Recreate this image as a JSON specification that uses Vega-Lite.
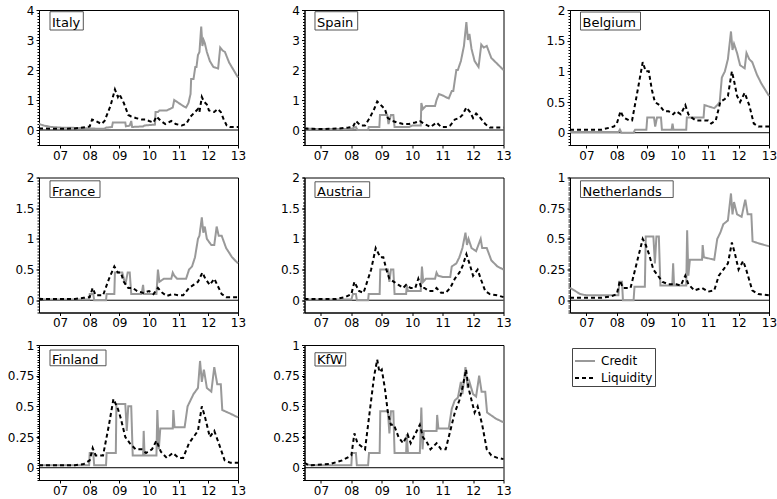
{
"$schema": "https://vega.github.io/schema/vega-lite/v6.json",
"autosize": {"type": "pad"},
"padding": {"left": 6, "top": 3, "right": 0, "bottom": 0},
"columns": 3,
"spacing": {"row": 32.5, "column": 66.5},
"bounds": "flush",
"datasets": {
"Italy": [
{"t":2006.29,"Credit":0.2},{"t":2006.45,"Credit":0.15},{"t":2006.7,"Credit":0.1},{"t":2007.0,"Credit":0.08},{"t":2007.5,"Credit":0.07},{"t":2007.9,"Credit":0.06},{"t":2008.1,"Credit":0.05},{"t":2008.3,"Credit":0.04},{"t":2008.5,"Credit":0.04},{"t":2008.55,"Credit":0.08},{"t":2008.75,"Credit":0.1},{"t":2008.78,"Credit":0.25},{"t":2009.2,"Credit":0.25},{"t":2009.22,"Credit":0.12},{"t":2009.35,"Credit":0.15},{"t":2009.4,"Credit":0.3},{"t":2009.43,"Credit":0.1},{"t":2009.8,"Credit":0.12},{"t":2009.85,"Credit":0.15},{"t":2010.2,"Credit":0.18},{"t":2010.22,"Credit":0.6},{"t":2010.3,"Credit":0.6},{"t":2010.35,"Credit":0.65},{"t":2010.6,"Credit":0.65},{"t":2010.8,"Credit":0.75},{"t":2010.85,"Credit":1.0},{"t":2011.0,"Credit":0.9},{"t":2011.15,"Credit":0.8},{"t":2011.25,"Credit":0.75},{"t":2011.33,"Credit":0.9},{"t":2011.4,"Credit":1.2},{"t":2011.42,"Credit":1.7},{"t":2011.5,"Credit":1.7},{"t":2011.56,"Credit":2.1},{"t":2011.6,"Credit":2.1},{"t":2011.65,"Credit":2.5},{"t":2011.7,"Credit":2.6},{"t":2011.76,"Credit":3.45},{"t":2011.8,"Credit":2.8},{"t":2011.84,"Credit":3.0},{"t":2011.88,"Credit":2.9},{"t":2011.95,"Credit":2.6},{"t":2012.05,"Credit":2.3},{"t":2012.17,"Credit":2.1},{"t":2012.33,"Credit":2.05},{"t":2012.4,"Credit":2.75},{"t":2012.48,"Credit":2.65},{"t":2012.56,"Credit":2.6},{"t":2012.7,"Credit":2.25},{"t":2012.85,"Credit":2.0},{"t":2013.0,"Credit":1.75},
{"t":2006.29,"Liquidity":0.05},{"t":2007.0,"Liquidity":0.04},{"t":2007.5,"Liquidity":0.05},{"t":2007.9,"Liquidity":0.1},{"t":2008.0,"Liquidity":0.12},{"t":2008.08,"Liquidity":0.35},{"t":2008.2,"Liquidity":0.3},{"t":2008.4,"Liquidity":0.2},{"t":2008.5,"Liquidity":0.3},{"t":2008.7,"Liquidity":0.8},{"t":2008.85,"Liquidity":1.35},{"t":2008.95,"Liquidity":1.1},{"t":2009.0,"Liquidity":1.2},{"t":2009.15,"Liquidity":0.9},{"t":2009.3,"Liquidity":0.5},{"t":2009.4,"Liquidity":0.45},{"t":2009.55,"Liquidity":0.4},{"t":2009.75,"Liquidity":0.35},{"t":2009.9,"Liquidity":0.35},{"t":2010.0,"Liquidity":0.3},{"t":2010.15,"Liquidity":0.25},{"t":2010.25,"Liquidity":0.45},{"t":2010.4,"Liquidity":0.3},{"t":2010.55,"Liquidity":0.2},{"t":2010.75,"Liquidity":0.3},{"t":2010.9,"Liquidity":0.2},{"t":2011.1,"Liquidity":0.15},{"t":2011.25,"Liquidity":0.2},{"t":2011.4,"Liquidity":0.45},{"t":2011.55,"Liquidity":0.6},{"t":2011.65,"Liquidity":0.7},{"t":2011.7,"Liquidity":0.6},{"t":2011.78,"Liquidity":1.1},{"t":2011.85,"Liquidity":0.95},{"t":2011.95,"Liquidity":0.85},{"t":2012.02,"Liquidity":0.65},{"t":2012.2,"Liquidity":0.6},{"t":2012.32,"Liquidity":0.7},{"t":2012.42,"Liquidity":0.6},{"t":2012.52,"Liquidity":0.35},{"t":2012.62,"Liquidity":0.15},{"t":2012.72,"Liquidity":0.1},{"t":2013.0,"Liquidity":0.1}
],
"Spain": [
{"t":2006.46,"Credit":0.05},{"t":2007.0,"Credit":0.03},{"t":2007.5,"Credit":0.03},{"t":2008.0,"Credit":0.04},{"t":2008.15,"Credit":0.1},{"t":2008.2,"Credit":0.0},{"t":2008.55,"Credit":0.0},{"t":2008.57,"Credit":0.1},{"t":2008.92,"Credit":0.1},{"t":2008.94,"Credit":0.5},{"t":2009.18,"Credit":0.5},{"t":2009.22,"Credit":0.2},{"t":2009.3,"Credit":0.5},{"t":2009.38,"Credit":0.5},{"t":2009.42,"Credit":0.1},{"t":2009.9,"Credit":0.1},{"t":2010.0,"Credit":0.15},{"t":2010.28,"Credit":0.15},{"t":2010.3,"Credit":0.9},{"t":2010.35,"Credit":0.7},{"t":2010.45,"Credit":0.8},{"t":2010.75,"Credit":0.8},{"t":2010.8,"Credit":1.0},{"t":2010.88,"Credit":1.2},{"t":2011.0,"Credit":1.15},{"t":2011.1,"Credit":1.1},{"t":2011.2,"Credit":1.05},{"t":2011.3,"Credit":1.3},{"t":2011.35,"Credit":1.3},{"t":2011.45,"Credit":2.0},{"t":2011.5,"Credit":2.0},{"t":2011.6,"Credit":2.3},{"t":2011.7,"Credit":2.8},{"t":2011.78,"Credit":3.6},{"t":2011.83,"Credit":3.0},{"t":2011.88,"Credit":3.2},{"t":2011.95,"Credit":2.7},{"t":2012.05,"Credit":2.3},{"t":2012.18,"Credit":2.1},{"t":2012.27,"Credit":2.85},{"t":2012.35,"Credit":2.75},{"t":2012.45,"Credit":2.8},{"t":2012.6,"Credit":2.4},{"t":2012.8,"Credit":2.2},{"t":2013.0,"Credit":2.0},
{"t":2006.46,"Liquidity":0.05},{"t":2007.0,"Liquidity":0.03},{"t":2007.6,"Liquidity":0.05},{"t":2007.9,"Liquidity":0.08},{"t":2008.05,"Liquidity":0.1},{"t":2008.15,"Liquidity":0.3},{"t":2008.3,"Liquidity":0.15},{"t":2008.45,"Liquidity":0.15},{"t":2008.6,"Liquidity":0.4},{"t":2008.75,"Liquidity":0.7},{"t":2008.85,"Liquidity":0.95},{"t":2009.0,"Liquidity":0.8},{"t":2009.1,"Liquidity":0.7},{"t":2009.2,"Liquidity":0.4},{"t":2009.35,"Liquidity":0.3},{"t":2009.5,"Liquidity":0.25},{"t":2009.7,"Liquidity":0.2},{"t":2009.9,"Liquidity":0.2},{"t":2010.1,"Liquidity":0.25},{"t":2010.25,"Liquidity":0.3},{"t":2010.4,"Liquidity":0.2},{"t":2010.6,"Liquidity":0.1},{"t":2010.8,"Liquidity":0.25},{"t":2010.95,"Liquidity":0.1},{"t":2011.15,"Liquidity":0.1},{"t":2011.25,"Liquidity":0.15},{"t":2011.4,"Liquidity":0.35},{"t":2011.55,"Liquidity":0.4},{"t":2011.65,"Liquidity":0.5},{"t":2011.78,"Liquidity":0.75},{"t":2011.9,"Liquidity":0.6},{"t":2012.0,"Liquidity":0.4},{"t":2012.1,"Liquidity":0.55},{"t":2012.2,"Liquidity":0.45},{"t":2012.4,"Liquidity":0.2},{"t":2012.55,"Liquidity":0.08},{"t":2013.0,"Liquidity":0.08}
],
"Belgium": [
{"t":2006.46,"Credit":0.01},{"t":2008.05,"Credit":0.01},{"t":2008.1,"Credit":0.05},{"t":2008.15,"Credit":0.0},{"t":2008.55,"Credit":0.0},{"t":2008.6,"Credit":0.05},{"t":2008.97,"Credit":0.05},{"t":2009.0,"Credit":0.25},{"t":2009.22,"Credit":0.25},{"t":2009.26,"Credit":0.1},{"t":2009.32,"Credit":0.25},{"t":2009.45,"Credit":0.25},{"t":2009.48,"Credit":0.05},{"t":2009.8,"Credit":0.05},{"t":2009.83,"Credit":0.15},{"t":2009.86,"Credit":0.05},{"t":2010.28,"Credit":0.05},{"t":2010.3,"Credit":0.25},{"t":2010.85,"Credit":0.25},{"t":2010.88,"Credit":0.45},{"t":2011.2,"Credit":0.4},{"t":2011.3,"Credit":0.45},{"t":2011.38,"Credit":0.5},{"t":2011.45,"Credit":0.9},{"t":2011.55,"Credit":1.0},{"t":2011.65,"Credit":1.2},{"t":2011.75,"Credit":1.65},{"t":2011.8,"Credit":1.35},{"t":2011.85,"Credit":1.45},{"t":2011.95,"Credit":1.3},{"t":2012.05,"Credit":1.1},{"t":2012.2,"Credit":1.05},{"t":2012.26,"Credit":1.3},{"t":2012.35,"Credit":1.2},{"t":2012.45,"Credit":1.15},{"t":2012.6,"Credit":0.95},{"t":2012.75,"Credit":0.8},{"t":2013.0,"Credit":0.6},
{"t":2006.46,"Liquidity":0.05},{"t":2007.5,"Liquidity":0.05},{"t":2007.9,"Liquidity":0.1},{"t":2008.0,"Liquidity":0.15},{"t":2008.12,"Liquidity":0.35},{"t":2008.22,"Liquidity":0.25},{"t":2008.4,"Liquidity":0.2},{"t":2008.5,"Liquidity":0.2},{"t":2008.65,"Liquidity":0.6},{"t":2008.85,"Liquidity":1.15},{"t":2008.95,"Liquidity":1.0},{"t":2009.05,"Liquidity":1.0},{"t":2009.15,"Liquidity":0.7},{"t":2009.25,"Liquidity":0.5},{"t":2009.4,"Liquidity":0.45},{"t":2009.55,"Liquidity":0.35},{"t":2009.7,"Liquidity":0.35},{"t":2009.85,"Liquidity":0.3},{"t":2009.95,"Liquidity":0.35},{"t":2010.1,"Liquidity":0.3},{"t":2010.25,"Liquidity":0.45},{"t":2010.35,"Liquidity":0.3},{"t":2010.45,"Liquidity":0.25},{"t":2010.6,"Liquidity":0.2},{"t":2010.8,"Liquidity":0.2},{"t":2011.0,"Liquidity":0.2},{"t":2011.1,"Liquidity":0.15},{"t":2011.25,"Liquidity":0.2},{"t":2011.4,"Liquidity":0.5},{"t":2011.55,"Liquidity":0.55},{"t":2011.65,"Liquidity":0.6},{"t":2011.78,"Liquidity":1.0},{"t":2011.85,"Liquidity":0.85},{"t":2011.95,"Liquidity":0.6},{"t":2012.05,"Liquidity":0.5},{"t":2012.2,"Liquidity":0.65},{"t":2012.35,"Liquidity":0.45},{"t":2012.5,"Liquidity":0.15},{"t":2012.65,"Liquidity":0.1},{"t":2013.0,"Liquidity":0.1}
],
"France": [
{"t":2006.29,"Credit":0.03},{"t":2006.5,"Credit":0.01},{"t":2007.98,"Credit":0.01},{"t":2008.0,"Credit":0.1},{"t":2008.12,"Credit":0.1},{"t":2008.15,"Credit":0.0},{"t":2008.55,"Credit":0.0},{"t":2008.57,"Credit":0.1},{"t":2008.83,"Credit":0.1},{"t":2008.85,"Credit":0.45},{"t":2009.1,"Credit":0.45},{"t":2009.2,"Credit":0.25},{"t":2009.28,"Credit":0.45},{"t":2009.35,"Credit":0.45},{"t":2009.4,"Credit":0.1},{"t":2009.75,"Credit":0.1},{"t":2009.8,"Credit":0.25},{"t":2009.83,"Credit":0.1},{"t":2010.25,"Credit":0.1},{"t":2010.3,"Credit":0.5},{"t":2010.35,"Credit":0.3},{"t":2010.5,"Credit":0.35},{"t":2010.75,"Credit":0.35},{"t":2010.8,"Credit":0.45},{"t":2010.85,"Credit":0.4},{"t":2010.95,"Credit":0.35},{"t":2011.25,"Credit":0.35},{"t":2011.35,"Credit":0.5},{"t":2011.45,"Credit":0.55},{"t":2011.55,"Credit":0.7},{"t":2011.65,"Credit":1.0},{"t":2011.7,"Credit":1.05},{"t":2011.78,"Credit":1.35},{"t":2011.83,"Credit":1.1},{"t":2011.88,"Credit":1.2},{"t":2011.95,"Credit":1.0},{"t":2012.1,"Credit":0.9},{"t":2012.2,"Credit":0.9},{"t":2012.28,"Credit":1.2},{"t":2012.35,"Credit":1.05},{"t":2012.45,"Credit":1.05},{"t":2012.6,"Credit":0.85},{"t":2012.8,"Credit":0.7},{"t":2013.0,"Credit":0.6},
{"t":2006.29,"Liquidity":0.02},{"t":2007.5,"Liquidity":0.02},{"t":2007.8,"Liquidity":0.04},{"t":2008.0,"Liquidity":0.05},{"t":2008.1,"Liquidity":0.2},{"t":2008.2,"Liquidity":0.08},{"t":2008.45,"Liquidity":0.08},{"t":2008.65,"Liquidity":0.35},{"t":2008.83,"Liquidity":0.55},{"t":2008.95,"Liquidity":0.45},{"t":2009.05,"Liquidity":0.45},{"t":2009.15,"Liquidity":0.3},{"t":2009.3,"Liquidity":0.2},{"t":2009.45,"Liquidity":0.2},{"t":2009.6,"Liquidity":0.15},{"t":2009.8,"Liquidity":0.12},{"t":2010.0,"Liquidity":0.15},{"t":2010.15,"Liquidity":0.1},{"t":2010.3,"Liquidity":0.2},{"t":2010.45,"Liquidity":0.12},{"t":2010.6,"Liquidity":0.07},{"t":2010.8,"Liquidity":0.1},{"t":2011.0,"Liquidity":0.08},{"t":2011.15,"Liquidity":0.08},{"t":2011.35,"Liquidity":0.2},{"t":2011.5,"Liquidity":0.25},{"t":2011.65,"Liquidity":0.3},{"t":2011.8,"Liquidity":0.45},{"t":2011.9,"Liquidity":0.35},{"t":2012.05,"Liquidity":0.25},{"t":2012.2,"Liquidity":0.35},{"t":2012.3,"Liquidity":0.25},{"t":2012.45,"Liquidity":0.1},{"t":2012.6,"Liquidity":0.05},{"t":2013.0,"Liquidity":0.05}
],
"Austria": [
{"t":2006.46,"Credit":0.01},{"t":2008.0,"Credit":0.01},{"t":2008.05,"Credit":0.1},{"t":2008.15,"Credit":0.1},{"t":2008.18,"Credit":0.0},{"t":2008.55,"Credit":0.0},{"t":2008.57,"Credit":0.1},{"t":2008.93,"Credit":0.1},{"t":2008.95,"Credit":0.5},{"t":2009.2,"Credit":0.5},{"t":2009.25,"Credit":0.3},{"t":2009.3,"Credit":0.5},{"t":2009.38,"Credit":0.5},{"t":2009.42,"Credit":0.1},{"t":2009.8,"Credit":0.1},{"t":2009.82,"Credit":0.25},{"t":2009.86,"Credit":0.15},{"t":2010.28,"Credit":0.15},{"t":2010.32,"Credit":0.55},{"t":2010.36,"Credit":0.3},{"t":2010.45,"Credit":0.35},{"t":2010.75,"Credit":0.35},{"t":2010.8,"Credit":0.45},{"t":2010.85,"Credit":0.4},{"t":2011.0,"Credit":0.38},{"t":2011.25,"Credit":0.38},{"t":2011.3,"Credit":0.55},{"t":2011.45,"Credit":0.6},{"t":2011.55,"Credit":0.7},{"t":2011.65,"Credit":0.85},{"t":2011.75,"Credit":1.1},{"t":2011.8,"Credit":0.9},{"t":2011.85,"Credit":1.0},{"t":2011.95,"Credit":0.85},{"t":2012.1,"Credit":0.8},{"t":2012.25,"Credit":1.0},{"t":2012.3,"Credit":0.85},{"t":2012.45,"Credit":0.85},{"t":2012.6,"Credit":0.65},{"t":2012.8,"Credit":0.55},{"t":2013.0,"Credit":0.5},
{"t":2006.46,"Liquidity":0.02},{"t":2007.5,"Liquidity":0.02},{"t":2007.8,"Liquidity":0.05},{"t":2008.0,"Liquidity":0.1},{"t":2008.1,"Liquidity":0.3},{"t":2008.25,"Liquidity":0.15},{"t":2008.4,"Liquidity":0.12},{"t":2008.65,"Liquidity":0.5},{"t":2008.8,"Liquidity":0.85},{"t":2008.95,"Liquidity":0.7},{"t":2009.05,"Liquidity":0.7},{"t":2009.15,"Liquidity":0.5},{"t":2009.25,"Liquidity":0.35},{"t":2009.4,"Liquidity":0.3},{"t":2009.55,"Liquidity":0.25},{"t":2009.7,"Liquidity":0.2},{"t":2009.8,"Liquidity":0.25},{"t":2009.95,"Liquidity":0.2},{"t":2010.1,"Liquidity":0.2},{"t":2010.2,"Liquidity":0.35},{"t":2010.3,"Liquidity":0.2},{"t":2010.4,"Liquidity":0.2},{"t":2010.55,"Liquidity":0.15},{"t":2010.7,"Liquidity":0.15},{"t":2010.8,"Liquidity":0.2},{"t":2010.95,"Liquidity":0.12},{"t":2011.1,"Liquidity":0.12},{"t":2011.25,"Liquidity":0.2},{"t":2011.4,"Liquidity":0.35},{"t":2011.55,"Liquidity":0.45},{"t":2011.65,"Liquidity":0.55},{"t":2011.78,"Liquidity":0.75},{"t":2011.88,"Liquidity":0.6},{"t":2012.0,"Liquidity":0.4},{"t":2012.15,"Liquidity":0.5},{"t":2012.25,"Liquidity":0.35},{"t":2012.4,"Liquidity":0.15},{"t":2012.55,"Liquidity":0.1},{"t":2012.8,"Liquidity":0.08},{"t":2013.0,"Liquidity":0.05}
],
"Netherlands": [
{"t":2006.46,"Credit":0.1},{"t":2006.6,"Credit":0.08},{"t":2006.8,"Credit":0.05},{"t":2007.0,"Credit":0.04},{"t":2008.05,"Credit":0.04},{"t":2008.08,"Credit":0.15},{"t":2008.17,"Credit":0.15},{"t":2008.2,"Credit":0.0},{"t":2008.55,"Credit":0.0},{"t":2008.58,"Credit":0.11},{"t":2008.92,"Credit":0.11},{"t":2008.95,"Credit":0.52},{"t":2009.2,"Credit":0.52},{"t":2009.25,"Credit":0.3},{"t":2009.3,"Credit":0.52},{"t":2009.38,"Credit":0.52},{"t":2009.43,"Credit":0.12},{"t":2009.82,"Credit":0.12},{"t":2009.85,"Credit":0.3},{"t":2009.88,"Credit":0.12},{"t":2010.28,"Credit":0.12},{"t":2010.31,"Credit":0.57},{"t":2010.35,"Credit":0.2},{"t":2010.4,"Credit":0.33},{"t":2010.8,"Credit":0.33},{"t":2010.82,"Credit":0.45},{"t":2010.86,"Credit":0.35},{"t":2011.2,"Credit":0.33},{"t":2011.3,"Credit":0.5},{"t":2011.4,"Credit":0.55},{"t":2011.5,"Credit":0.62},{"t":2011.65,"Credit":0.65},{"t":2011.75,"Credit":0.87},{"t":2011.8,"Credit":0.7},{"t":2011.85,"Credit":0.8},{"t":2011.95,"Credit":0.7},{"t":2012.1,"Credit":0.68},{"t":2012.22,"Credit":0.82},{"t":2012.3,"Credit":0.7},{"t":2012.42,"Credit":0.7},{"t":2012.46,"Credit":0.48},{"t":2012.7,"Credit":0.46},{"t":2013.0,"Credit":0.44},
{"t":2006.46,"Liquidity":0.02},{"t":2007.5,"Liquidity":0.02},{"t":2007.8,"Liquidity":0.03},{"t":2008.0,"Liquidity":0.05},{"t":2008.1,"Liquidity":0.16},{"t":2008.2,"Liquidity":0.1},{"t":2008.45,"Liquidity":0.1},{"t":2008.65,"Liquidity":0.3},{"t":2008.85,"Liquidity":0.5},{"t":2008.95,"Liquidity":0.45},{"t":2009.05,"Liquidity":0.38},{"t":2009.2,"Liquidity":0.25},{"t":2009.35,"Liquidity":0.2},{"t":2009.5,"Liquidity":0.15},{"t":2009.7,"Liquidity":0.13},{"t":2009.95,"Liquidity":0.13},{"t":2010.1,"Liquidity":0.12},{"t":2010.25,"Liquidity":0.2},{"t":2010.35,"Liquidity":0.13},{"t":2010.55,"Liquidity":0.08},{"t":2010.8,"Liquidity":0.1},{"t":2011.0,"Liquidity":0.07},{"t":2011.2,"Liquidity":0.08},{"t":2011.35,"Liquidity":0.2},{"t":2011.5,"Liquidity":0.25},{"t":2011.65,"Liquidity":0.3},{"t":2011.78,"Liquidity":0.47},{"t":2011.88,"Liquidity":0.38},{"t":2012.0,"Liquidity":0.25},{"t":2012.15,"Liquidity":0.32},{"t":2012.25,"Liquidity":0.25},{"t":2012.45,"Liquidity":0.08},{"t":2012.65,"Liquidity":0.05},{"t":2013.0,"Liquidity":0.04}
],
"Finland": [
{"t":2006.29,"Credit":0.02},{"t":2007.98,"Credit":0.02},{"t":2008.0,"Credit":0.12},{"t":2008.12,"Credit":0.12},{"t":2008.15,"Credit":0.02},{"t":2008.55,"Credit":0.02},{"t":2008.57,"Credit":0.12},{"t":2008.88,"Credit":0.12},{"t":2008.9,"Credit":0.52},{"t":2009.2,"Credit":0.52},{"t":2009.25,"Credit":0.3},{"t":2009.3,"Credit":0.5},{"t":2009.4,"Credit":0.5},{"t":2009.45,"Credit":0.1},{"t":2009.8,"Credit":0.1},{"t":2009.82,"Credit":0.3},{"t":2009.85,"Credit":0.1},{"t":2010.25,"Credit":0.1},{"t":2010.28,"Credit":0.47},{"t":2010.33,"Credit":0.15},{"t":2010.38,"Credit":0.32},{"t":2010.8,"Credit":0.32},{"t":2010.82,"Credit":0.47},{"t":2010.86,"Credit":0.33},{"t":2011.2,"Credit":0.33},{"t":2011.3,"Credit":0.5},{"t":2011.4,"Credit":0.55},{"t":2011.5,"Credit":0.6},{"t":2011.65,"Credit":0.65},{"t":2011.72,"Credit":0.87},{"t":2011.78,"Credit":0.7},{"t":2011.85,"Credit":0.8},{"t":2011.95,"Credit":0.65},{"t":2012.1,"Credit":0.62},{"t":2012.2,"Credit":0.82},{"t":2012.3,"Credit":0.68},{"t":2012.42,"Credit":0.68},{"t":2012.47,"Credit":0.47},{"t":2012.75,"Credit":0.44},{"t":2013.0,"Credit":0.41},
{"t":2006.29,"Liquidity":0.02},{"t":2007.5,"Liquidity":0.02},{"t":2007.8,"Liquidity":0.03},{"t":2008.0,"Liquidity":0.06},{"t":2008.1,"Liquidity":0.16},{"t":2008.2,"Liquidity":0.1},{"t":2008.45,"Liquidity":0.1},{"t":2008.65,"Liquidity":0.35},{"t":2008.8,"Liquidity":0.56},{"t":2008.95,"Liquidity":0.48},{"t":2009.05,"Liquidity":0.4},{"t":2009.2,"Liquidity":0.25},{"t":2009.35,"Liquidity":0.2},{"t":2009.55,"Liquidity":0.15},{"t":2009.75,"Liquidity":0.15},{"t":2009.9,"Liquidity":0.12},{"t":2010.1,"Liquidity":0.15},{"t":2010.25,"Liquidity":0.22},{"t":2010.4,"Liquidity":0.13},{"t":2010.6,"Liquidity":0.08},{"t":2010.8,"Liquidity":0.12},{"t":2011.0,"Liquidity":0.08},{"t":2011.15,"Liquidity":0.08},{"t":2011.35,"Liquidity":0.2},{"t":2011.5,"Liquidity":0.25},{"t":2011.65,"Liquidity":0.3},{"t":2011.78,"Liquidity":0.5},{"t":2011.88,"Liquidity":0.42},{"t":2012.05,"Liquidity":0.25},{"t":2012.2,"Liquidity":0.3},{"t":2012.35,"Liquidity":0.2},{"t":2012.55,"Liquidity":0.06},{"t":2012.75,"Liquidity":0.04},{"t":2013.0,"Liquidity":0.04}
],
"KfW": [
{"t":2006.46,"Credit":0.03},{"t":2006.7,"Credit":0.02},{"t":2008.0,"Credit":0.02},{"t":2008.02,"Credit":0.12},{"t":2008.15,"Credit":0.12},{"t":2008.18,"Credit":0.02},{"t":2008.55,"Credit":0.02},{"t":2008.58,"Credit":0.12},{"t":2008.93,"Credit":0.12},{"t":2008.95,"Credit":0.46},{"t":2009.2,"Credit":0.46},{"t":2009.25,"Credit":0.28},{"t":2009.3,"Credit":0.46},{"t":2009.38,"Credit":0.46},{"t":2009.42,"Credit":0.12},{"t":2009.8,"Credit":0.12},{"t":2009.82,"Credit":0.27},{"t":2009.86,"Credit":0.12},{"t":2010.25,"Credit":0.12},{"t":2010.3,"Credit":0.49},{"t":2010.34,"Credit":0.15},{"t":2010.38,"Credit":0.3},{"t":2010.8,"Credit":0.3},{"t":2010.82,"Credit":0.43},{"t":2010.86,"Credit":0.32},{"t":2011.2,"Credit":0.32},{"t":2011.3,"Credit":0.48},{"t":2011.4,"Credit":0.55},{"t":2011.5,"Credit":0.57},{"t":2011.6,"Credit":0.7},{"t":2011.65,"Credit":0.6},{"t":2011.75,"Credit":0.82},{"t":2011.82,"Credit":0.65},{"t":2011.88,"Credit":0.7},{"t":2012.0,"Credit":0.6},{"t":2012.1,"Credit":0.58},{"t":2012.2,"Credit":0.75},{"t":2012.28,"Credit":0.62},{"t":2012.4,"Credit":0.62},{"t":2012.46,"Credit":0.45},{"t":2012.75,"Credit":0.4},{"t":2013.0,"Credit":0.37},
{"t":2006.46,"Liquidity":0.04},{"t":2006.6,"Liquidity":0.02},{"t":2007.3,"Liquidity":0.03},{"t":2007.7,"Liquidity":0.06},{"t":2008.0,"Liquidity":0.1},{"t":2008.1,"Liquidity":0.28},{"t":2008.2,"Liquidity":0.2},{"t":2008.45,"Liquidity":0.15},{"t":2008.6,"Liquidity":0.45},{"t":2008.75,"Liquidity":0.75},{"t":2008.85,"Liquidity":0.88},{"t":2008.92,"Liquidity":0.78},{"t":2009.0,"Liquidity":0.8},{"t":2009.1,"Liquidity":0.65},{"t":2009.2,"Liquidity":0.45},{"t":2009.3,"Liquidity":0.35},{"t":2009.4,"Liquidity":0.35},{"t":2009.55,"Liquidity":0.25},{"t":2009.7,"Liquidity":0.2},{"t":2009.85,"Liquidity":0.27},{"t":2009.95,"Liquidity":0.2},{"t":2010.05,"Liquidity":0.25},{"t":2010.25,"Liquidity":0.35},{"t":2010.35,"Liquidity":0.25},{"t":2010.5,"Liquidity":0.2},{"t":2010.6,"Liquidity":0.15},{"t":2010.8,"Liquidity":0.2},{"t":2010.95,"Liquidity":0.15},{"t":2011.1,"Liquidity":0.15},{"t":2011.25,"Liquidity":0.3},{"t":2011.4,"Liquidity":0.45},{"t":2011.55,"Liquidity":0.55},{"t":2011.65,"Liquidity":0.65},{"t":2011.77,"Liquidity":0.8},{"t":2011.85,"Liquidity":0.65},{"t":2011.95,"Liquidity":0.55},{"t":2012.05,"Liquidity":0.45},{"t":2012.15,"Liquidity":0.5},{"t":2012.3,"Liquidity":0.35},{"t":2012.45,"Liquidity":0.15},{"t":2012.6,"Liquidity":0.1},{"t":2012.8,"Liquidity":0.08},{"t":2013.0,"Liquidity":0.07}
]
},
"concat": [
{"width":199,"height":135,"resolve":{"axis":{"y":"independent"}},"layer":[
 {"data":{"values":[{}]},"mark":{"type":"rule","color":"black","strokeWidth":1},"encoding":{"y":{"datum":0,"type":"quantitative","scale":{"domain":[-0.5,4],"nice":false,"zero":false},"axis":{"orient":"left","labels":false,"domain":false,"ticks":true,"tickSize":2,"tickCount":45,"title":null}}}},
 {"data":{"name":"Italy"},"transform":[{"fold":["Credit","Liquidity"],"as":["series","v"]},{"filter":"isValid(datum.v)"}],"mark":{"type":"line","strokeWidth":2},
  "encoding":{"x":{"field":"t","type":"quantitative","scale":{"domain":[2006.29,2013],"nice":false,"zero":false},"axis":{"values":[2007,2008,2009,2010,2011,2012,2013],"tickCount":20,"labelExpr":"substring(toString(datum.value),2)","title":null,"labelFlush":false,"labelOverlap":false}},
   "y":{"field":"v","type":"quantitative","scale":{"domain":[-0.5,4],"nice":false,"zero":false},"axis":{"orient":"left","values":[0,1,2,3,4],"tickCount":20,"labelExpr":"toString(datum.value)","title":null}},
   "color":{"field":"series","type":"nominal","scale":{"domain":["Credit","Liquidity"],"range":["#999999","#000000"]},"legend":{"title":null}},
   "strokeDash":{"field":"series","type":"nominal","scale":{"domain":["Credit","Liquidity"],"range":[[1,0],[4,3]]},"legend":{"title":null}}}},
 {"data":{"values":[{}]},"mark":{"type":"rect","fill":"white","stroke":"#555555","strokeWidth":1},"encoding":{"x":{"datum":2006.661,"type":"quantitative"},"x2":{"datum":2007.784},"y":{"datum":3.943,"type":"quantitative","axis":null},"y2":{"datum":3.333}}},
 {"data":{"values":[{}]},"mark":{"type":"text","text":"Italy","align":"left","baseline":"alphabetic","dx":2,"dy":17,"fontSize":13,"color":"black"},"encoding":{"x":{"datum":2006.661,"type":"quantitative"},"y":{"datum":4,"type":"quantitative","axis":null}}}
]},
{"width":199,"height":135,"resolve":{"axis":{"y":"independent"}},"layer":[
 {"data":{"values":[{}]},"mark":{"type":"rule","color":"black","strokeWidth":1},"encoding":{"y":{"datum":0,"type":"quantitative","scale":{"domain":[-0.5,4],"nice":false,"zero":false},"axis":{"orient":"left","labels":false,"domain":false,"ticks":true,"tickSize":2,"tickCount":45,"title":null}}}},
 {"data":{"name":"Spain"},"transform":[{"fold":["Credit","Liquidity"],"as":["series","v"]},{"filter":"isValid(datum.v)"}],"mark":{"type":"line","strokeWidth":2},
  "encoding":{"x":{"field":"t","type":"quantitative","scale":{"domain":[2006.46,2013],"nice":false,"zero":false},"axis":{"values":[2007,2008,2009,2010,2011,2012,2013],"tickCount":20,"labelExpr":"substring(toString(datum.value),2)","title":null,"labelFlush":false,"labelOverlap":false}},
   "y":{"field":"v","type":"quantitative","scale":{"domain":[-0.5,4],"nice":false,"zero":false},"axis":{"orient":"left","values":[0,1,2,3,4],"tickCount":20,"labelExpr":"toString(datum.value)","title":null}},
   "color":{"field":"series","type":"nominal","scale":{"domain":["Credit","Liquidity"],"range":["#999999","#000000"]},"legend":{"title":null}},
   "strokeDash":{"field":"series","type":"nominal","scale":{"domain":["Credit","Liquidity"],"range":[[1,0],[4,3]]},"legend":{"title":null}}}},
 {"data":{"values":[{}]},"mark":{"type":"rect","fill":"white","stroke":"#555555","strokeWidth":1},"encoding":{"x":{"datum":2006.805,"type":"quantitative"},"x2":{"datum":2008.208},"y":{"datum":3.943,"type":"quantitative","axis":null},"y2":{"datum":3.333}}},
 {"data":{"values":[{}]},"mark":{"type":"text","text":"Spain","align":"left","baseline":"alphabetic","dx":2,"dy":17,"fontSize":13,"color":"black"},"encoding":{"x":{"datum":2006.805,"type":"quantitative"},"y":{"datum":4,"type":"quantitative","axis":null}}}
]},
{"width":199,"height":135,"resolve":{"axis":{"y":"independent"}},"layer":[
 {"data":{"values":[{}]},"mark":{"type":"rule","color":"black","strokeWidth":1},"encoding":{"y":{"datum":0,"type":"quantitative","scale":{"domain":[-0.2,2],"nice":false,"zero":false},"axis":{"orient":"left","labels":false,"domain":false,"ticks":true,"tickSize":2,"tickCount":45,"title":null}}}},
 {"data":{"name":"Belgium"},"transform":[{"fold":["Credit","Liquidity"],"as":["series","v"]},{"filter":"isValid(datum.v)"}],"mark":{"type":"line","strokeWidth":2},
  "encoding":{"x":{"field":"t","type":"quantitative","scale":{"domain":[2006.46,2013],"nice":false,"zero":false},"axis":{"values":[2007,2008,2009,2010,2011,2012,2013],"tickCount":20,"labelExpr":"substring(toString(datum.value),2)","title":null,"labelFlush":false,"labelOverlap":false}},
   "y":{"field":"v","type":"quantitative","scale":{"domain":[-0.2,2],"nice":false,"zero":false},"axis":{"orient":"left","values":[0,0.5,1,1.5,2],"tickCount":20,"labelExpr":"toString(datum.value)","title":null}},
   "color":{"field":"series","type":"nominal","scale":{"domain":["Credit","Liquidity"],"range":["#999999","#000000"]},"legend":{"title":null}},
   "strokeDash":{"field":"series","type":"nominal","scale":{"domain":["Credit","Liquidity"],"range":[[1,0],[4,3]]},"legend":{"title":null}}}},
 {"data":{"values":[{}]},"mark":{"type":"rect","fill":"white","stroke":"#555555","strokeWidth":1},"encoding":{"x":{"datum":2006.805,"type":"quantitative"},"x2":{"datum":2008.777},"y":{"datum":1.967,"type":"quantitative","axis":null},"y2":{"datum":1.674}}},
 {"data":{"values":[{}]},"mark":{"type":"text","text":"Belgium","align":"left","baseline":"alphabetic","dx":2,"dy":17,"fontSize":13,"color":"black"},"encoding":{"x":{"datum":2006.805,"type":"quantitative"},"y":{"datum":2,"type":"quantitative","axis":null}}}
]},
{"width":199,"height":135,"resolve":{"axis":{"y":"independent"}},"layer":[
 {"data":{"values":[{}]},"mark":{"type":"rule","color":"black","strokeWidth":1},"encoding":{"y":{"datum":0,"type":"quantitative","scale":{"domain":[-0.2,2],"nice":false,"zero":false},"axis":{"orient":"left","labels":false,"domain":false,"ticks":true,"tickSize":2,"tickCount":45,"title":null}}}},
 {"data":{"name":"France"},"transform":[{"fold":["Credit","Liquidity"],"as":["series","v"]},{"filter":"isValid(datum.v)"}],"mark":{"type":"line","strokeWidth":2},
  "encoding":{"x":{"field":"t","type":"quantitative","scale":{"domain":[2006.29,2013],"nice":false,"zero":false},"axis":{"values":[2007,2008,2009,2010,2011,2012,2013],"tickCount":20,"labelExpr":"substring(toString(datum.value),2)","title":null,"labelFlush":false,"labelOverlap":false}},
   "y":{"field":"v","type":"quantitative","scale":{"domain":[-0.2,2],"nice":false,"zero":false},"axis":{"orient":"left","values":[0,0.5,1,1.5,2],"tickCount":20,"labelExpr":"toString(datum.value)","title":null}},
   "color":{"field":"series","type":"nominal","scale":{"domain":["Credit","Liquidity"],"range":["#999999","#000000"]},"legend":{"title":null}},
   "strokeDash":{"field":"series","type":"nominal","scale":{"domain":["Credit","Liquidity"],"range":[[1,0],[4,3]]},"legend":{"title":null}}}},
 {"data":{"values":[{}]},"mark":{"type":"rect","fill":"white","stroke":"#555555","strokeWidth":1},"encoding":{"x":{"datum":2006.661,"type":"quantitative"},"x2":{"datum":2008.347},"y":{"datum":1.946,"type":"quantitative","axis":null},"y2":{"datum":1.674}}},
 {"data":{"values":[{}]},"mark":{"type":"text","text":"France","align":"left","baseline":"alphabetic","dx":2,"dy":18,"fontSize":13,"color":"black"},"encoding":{"x":{"datum":2006.661,"type":"quantitative"},"y":{"datum":2,"type":"quantitative","axis":null}}}
]},
{"width":199,"height":135,"resolve":{"axis":{"y":"independent"}},"layer":[
 {"data":{"values":[{}]},"mark":{"type":"rule","color":"black","strokeWidth":1},"encoding":{"y":{"datum":0,"type":"quantitative","scale":{"domain":[-0.2,2],"nice":false,"zero":false},"axis":{"orient":"left","labels":false,"domain":false,"ticks":true,"tickSize":2,"tickCount":45,"title":null}}}},
 {"data":{"name":"Austria"},"transform":[{"fold":["Credit","Liquidity"],"as":["series","v"]},{"filter":"isValid(datum.v)"}],"mark":{"type":"line","strokeWidth":2},
  "encoding":{"x":{"field":"t","type":"quantitative","scale":{"domain":[2006.46,2013],"nice":false,"zero":false},"axis":{"values":[2007,2008,2009,2010,2011,2012,2013],"tickCount":20,"labelExpr":"substring(toString(datum.value),2)","title":null,"labelFlush":false,"labelOverlap":false}},
   "y":{"field":"v","type":"quantitative","scale":{"domain":[-0.2,2],"nice":false,"zero":false},"axis":{"orient":"left","values":[0,0.5,1,1.5,2],"tickCount":20,"labelExpr":"toString(datum.value)","title":null}},
   "color":{"field":"series","type":"nominal","scale":{"domain":["Credit","Liquidity"],"range":["#999999","#000000"]},"legend":{"title":null}},
   "strokeDash":{"field":"series","type":"nominal","scale":{"domain":["Credit","Liquidity"],"range":[[1,0],[4,3]]},"legend":{"title":null}}}},
 {"data":{"values":[{}]},"mark":{"type":"rect","fill":"white","stroke":"#555555","strokeWidth":1},"encoding":{"x":{"datum":2006.805,"type":"quantitative"},"x2":{"datum":2008.602},"y":{"datum":1.93,"type":"quantitative","axis":null},"y2":{"datum":1.674}}},
 {"data":{"values":[{}]},"mark":{"type":"text","text":"Austria","align":"left","baseline":"alphabetic","dx":2,"dy":18,"fontSize":13,"color":"black"},"encoding":{"x":{"datum":2006.805,"type":"quantitative"},"y":{"datum":2,"type":"quantitative","axis":null}}}
]},
{"width":199,"height":135,"resolve":{"axis":{"y":"independent"}},"layer":[
 {"data":{"values":[{}]},"mark":{"type":"rule","color":"black","strokeWidth":1},"encoding":{"y":{"datum":0,"type":"quantitative","scale":{"domain":[-0.1,1],"nice":false,"zero":false},"axis":{"orient":"left","labels":false,"domain":false,"ticks":true,"tickSize":2,"tickCount":45,"title":null}}}},
 {"data":{"name":"Netherlands"},"transform":[{"fold":["Credit","Liquidity"],"as":["series","v"]},{"filter":"isValid(datum.v)"}],"mark":{"type":"line","strokeWidth":2},
  "encoding":{"x":{"field":"t","type":"quantitative","scale":{"domain":[2006.46,2013],"nice":false,"zero":false},"axis":{"values":[2007,2008,2009,2010,2011,2012,2013],"tickCount":20,"labelExpr":"substring(toString(datum.value),2)","title":null,"labelFlush":false,"labelOverlap":false}},
   "y":{"field":"v","type":"quantitative","scale":{"domain":[-0.1,1],"nice":false,"zero":false},"axis":{"orient":"left","values":[0,0.25,0.5,0.75,1],"tickCount":20,"labelExpr":"toString(datum.value)","title":null}},
   "color":{"field":"series","type":"nominal","scale":{"domain":["Credit","Liquidity"],"range":["#999999","#000000"]},"legend":{"title":null}},
   "strokeDash":{"field":"series","type":"nominal","scale":{"domain":["Credit","Liquidity"],"range":[[1,0],[4,3]]},"legend":{"title":null}}}},
 {"data":{"values":[{}]},"mark":{"type":"rect","fill":"white","stroke":"#555555","strokeWidth":1},"encoding":{"x":{"datum":2006.805,"type":"quantitative"},"x2":{"datum":2009.851},"y":{"datum":0.973,"type":"quantitative","axis":null},"y2":{"datum":0.837}}},
 {"data":{"values":[{}]},"mark":{"type":"text","text":"Netherlands","align":"left","baseline":"alphabetic","dx":2,"dy":18,"fontSize":13,"color":"black"},"encoding":{"x":{"datum":2006.805,"type":"quantitative"},"y":{"datum":1,"type":"quantitative","axis":null}}}
]},
{"width":199,"height":135,"resolve":{"axis":{"y":"independent"}},"layer":[
 {"data":{"values":[{}]},"mark":{"type":"rule","color":"black","strokeWidth":1},"encoding":{"y":{"datum":0,"type":"quantitative","scale":{"domain":[-0.1,1],"nice":false,"zero":false},"axis":{"orient":"left","labels":false,"domain":false,"ticks":true,"tickSize":2,"tickCount":45,"title":null}}}},
 {"data":{"name":"Finland"},"transform":[{"fold":["Credit","Liquidity"],"as":["series","v"]},{"filter":"isValid(datum.v)"}],"mark":{"type":"line","strokeWidth":2},
  "encoding":{"x":{"field":"t","type":"quantitative","scale":{"domain":[2006.29,2013],"nice":false,"zero":false},"axis":{"values":[2007,2008,2009,2010,2011,2012,2013],"tickCount":20,"labelExpr":"substring(toString(datum.value),2)","title":null,"labelFlush":false,"labelOverlap":false}},
   "y":{"field":"v","type":"quantitative","scale":{"domain":[-0.1,1],"nice":false,"zero":false},"axis":{"orient":"left","values":[0,0.25,0.5,0.75,1],"tickCount":20,"labelExpr":"toString(datum.value)","title":null}},
   "color":{"field":"series","type":"nominal","scale":{"domain":["Credit","Liquidity"],"range":["#999999","#000000"]},"legend":{"title":null}},
   "strokeDash":{"field":"series","type":"nominal","scale":{"domain":["Credit","Liquidity"],"range":[[1,0],[4,3]]},"legend":{"title":null}}}},
 {"data":{"values":[{}]},"mark":{"type":"rect","fill":"white","stroke":"#555555","strokeWidth":1},"encoding":{"x":{"datum":2006.661,"type":"quantitative"},"x2":{"datum":2008.549},"y":{"datum":0.959,"type":"quantitative","axis":null},"y2":{"datum":0.831}}},
 {"data":{"values":[{}]},"mark":{"type":"text","text":"Finland","align":"left","baseline":"alphabetic","dx":2,"dy":18.5,"fontSize":13,"color":"black"},"encoding":{"x":{"datum":2006.661,"type":"quantitative"},"y":{"datum":1,"type":"quantitative","axis":null}}}
]},
{"width":199,"height":135,"resolve":{"axis":{"y":"independent"}},"layer":[
 {"data":{"values":[{}]},"mark":{"type":"rule","color":"black","strokeWidth":1},"encoding":{"y":{"datum":0,"type":"quantitative","scale":{"domain":[-0.1,1],"nice":false,"zero":false},"axis":{"orient":"left","labels":false,"domain":false,"ticks":true,"tickSize":2,"tickCount":45,"title":null}}}},
 {"data":{"name":"KfW"},"transform":[{"fold":["Credit","Liquidity"],"as":["series","v"]},{"filter":"isValid(datum.v)"}],"mark":{"type":"line","strokeWidth":2},
  "encoding":{"x":{"field":"t","type":"quantitative","scale":{"domain":[2006.46,2013],"nice":false,"zero":false},"axis":{"values":[2007,2008,2009,2010,2011,2012,2013],"tickCount":20,"labelExpr":"substring(toString(datum.value),2)","title":null,"labelFlush":false,"labelOverlap":false}},
   "y":{"field":"v","type":"quantitative","scale":{"domain":[-0.1,1],"nice":false,"zero":false},"axis":{"orient":"left","values":[0,0.25,0.5,0.75,1],"tickCount":20,"labelExpr":"toString(datum.value)","title":null}},
   "color":{"field":"series","type":"nominal","scale":{"domain":["Credit","Liquidity"],"range":["#999999","#000000"]},"legend":{"title":null}},
   "strokeDash":{"field":"series","type":"nominal","scale":{"domain":["Credit","Liquidity"],"range":[[1,0],[4,3]]},"legend":{"title":null}}}},
 {"data":{"values":[{}]},"mark":{"type":"rect","fill":"white","stroke":"#555555","strokeWidth":1},"encoding":{"x":{"datum":2006.805,"type":"quantitative"},"x2":{"datum":2007.814},"y":{"datum":0.937,"type":"quantitative","axis":null},"y2":{"datum":0.829}}},
 {"data":{"values":[{}]},"mark":{"type":"text","text":"KfW","align":"left","baseline":"alphabetic","dx":2,"dy":19,"fontSize":13,"color":"black"},"encoding":{"x":{"datum":2006.805,"type":"quantitative"},"y":{"datum":1,"type":"quantitative","axis":null}}}
]}
],
"config": {
 "font": "DejaVu Sans",
 "view": {"stroke": "black", "strokeWidth": 1},
 "axis": {"labelFont": "DejaVu Sans", "labelFontSize": 12, "labelColor": "black", "tickColor": "black", "domainColor": "black", "grid": false, "tickSize": 3, "labelPadding": 2, "domainWidth": 1, "tickWidth": 1, "labelOverlap": false, "labelFlush": false},
 "legend": {"orient": "none", "legendX": 533, "legendY": 338, "strokeColor": "#444444", "fillColor": "white", "padding": 2, "labelFont": "DejaVu Sans", "labelFontSize": 12, "labelColor": "black", "symbolSize": 400, "symbolStrokeWidth": 2, "symbolType": "stroke", "rowPadding": 0, "labelOffset": 5}
}
}
